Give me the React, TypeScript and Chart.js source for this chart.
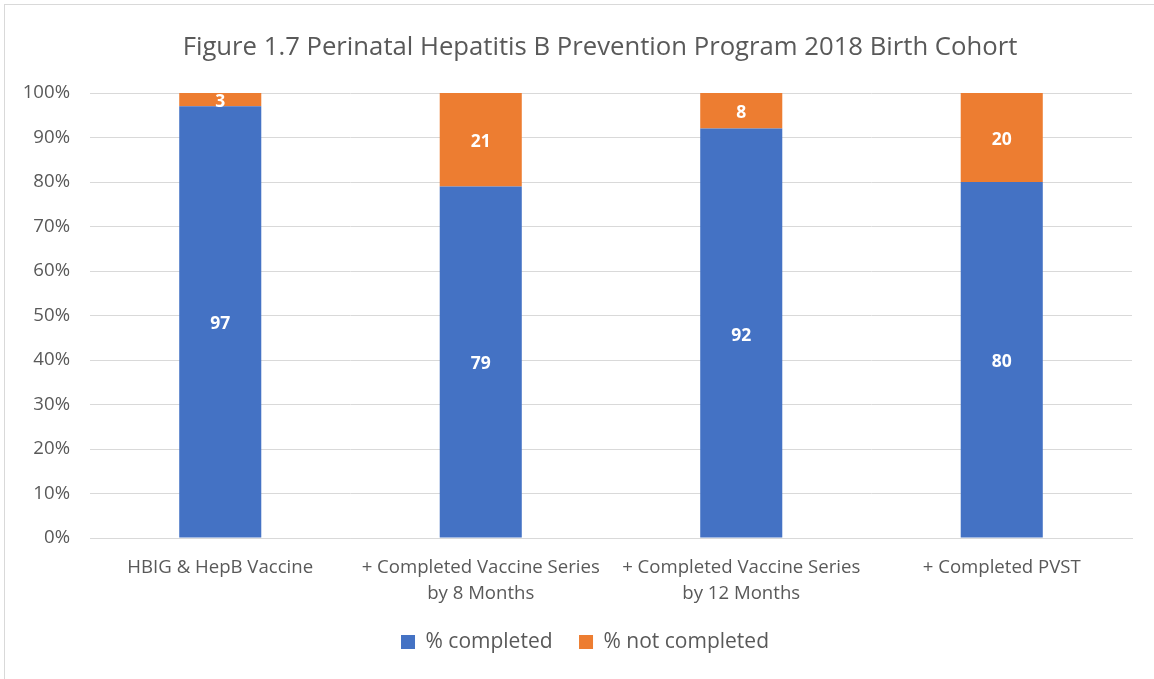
import React, { useEffect, useRef } from "react";
import { Chart, registerables } from "chart.js";

Chart.register(...registerables);

const title = "Figure 1.7 Perinatal Hepatitis B Prevention Program 2018 Birth Cohort";
const categories: string[][] = [
  ["HBIG & HepB Vaccine"],
  ["+ Completed Vaccine Series", "by 8 Months"],
  ["+ Completed Vaccine Series", "by 12 Months"],
  ["+ Completed PVST"],
];
const completed = [97, 79, 92, 80];
const notCompleted = [3, 21, 8, 20];
const seriesNames = ["% completed", "% not completed"];
const yTicks = [0, 10, 20, 30, 40, 50, 60, 70, 80, 90, 100];

const FONT = "'Open Sans', sans-serif";
const GRAY = "#595959";

const dataLabels = {
  id: "dataLabels",
  afterDatasetsDraw(chart: any) {
    const ctx = chart.ctx;
    ctx.save();
    ctx.fillStyle = "#ffffff";
    ctx.font = `bold 17.5px ${FONT}`;
    ctx.textAlign = "center";
    ctx.textBaseline = "middle";
    chart.data.datasets.forEach((ds: any, i: number) => {
      const meta = chart.getDatasetMeta(i);
      meta.data.forEach((el: any, j: number) => {
        const v = ds.data[j];
        const cy = (el.y + el.base) / 2;
        ctx.fillText(String(v), el.x, cy + 2.5);
      });
    });
    ctx.restore();
  },
};

// shift title and legend horizontally (the original figure is wider than the cropped view)
const shiftBoxes = {
  id: "shiftBoxes",
  afterLayout(chart: any) {
    if (chart.titleBlock) {
      chart.titleBlock.left += 34;
      chart.titleBlock.right += 34;
    }
    if (chart.legend) {
      chart.legend.left += 19;
      chart.legend.right += 19;
    }
  },
};

export default function App() {
  const ref = useRef<HTMLCanvasElement | null>(null);
  useEffect(() => {
    if (!ref.current) return;
    const chart = new Chart(ref.current, {
      type: "bar",
      data: {
        labels: categories,
        datasets: [
          { label: seriesNames[0], data: completed, backgroundColor: "#4472C4", categoryPercentage: 1, barPercentage: 0.315 },
          { label: seriesNames[1], data: notCompleted, backgroundColor: "#ED7D31", categoryPercentage: 1, barPercentage: 0.315 },
        ],
      },
      options: {
        responsive: false,
        animation: false,
        layout: { padding: { left: 0, right: 22, top: 0, bottom: 16.5 } },
        plugins: {
          tooltip: { enabled: false },
          title: {
            display: true,
            text: title,
            color: GRAY,
            font: { family: FONT, size: 25.7, weight: "normal" },
            padding: { top: 32.5, bottom: 29.66 },
          },
          legend: {
            position: "bottom",
            labels: {
              color: GRAY,
              font: { family: FONT, size: 21 },
              boxWidth: 14,
              boxHeight: 14,
              padding: 26.5,
            },
          },
        },
        scales: {
          x: {
            stacked: true,
            grid: { display: false, drawTicks: false },
            border: { display: true, color: "#d9d9d9", width: 1 },
            ticks: { color: GRAY, font: { family: FONT, size: 18.6, lineHeight: 26 / 18.6 }, padding: 17, maxRotation: 0, autoSkip: false },
            afterFit: (s: any) => { s.height = 67; },
          },
          y: {
            stacked: true,
            min: 0,
            max: 100,
            afterBuildTicks: (s: any) => { s.ticks = yTicks.map((v) => ({ value: v })); },
            grid: { color: "#d9d9d9", lineWidth: 1, drawTicks: false },
            border: { display: false },
            ticks: { color: GRAY, font: { family: FONT, size: 18.6 }, padding: 20, callback: (v: any) => `${v}%` },
            afterFit: (s: any) => { s.width = 90; },
          },
        },
      },
      plugins: [dataLabels, shiftBoxes],
    } as any);
    return () => chart.destroy();
  }, []);
  return (
    <div style={{ position: "fixed", left: 0, top: 0, width: 1154, height: 679, background: "#fff", overflow: "hidden" }}>
      <div style={{ position: "absolute", left: 4, top: 4, width: 1200, height: 720, borderTop: "1px solid #d9d9d9", borderLeft: "1px solid #d9d9d9" }} />
      <canvas ref={ref} width={1154} height={679} style={{ position: "absolute", left: 0, top: 0 }} />
    </div>
  );
}
